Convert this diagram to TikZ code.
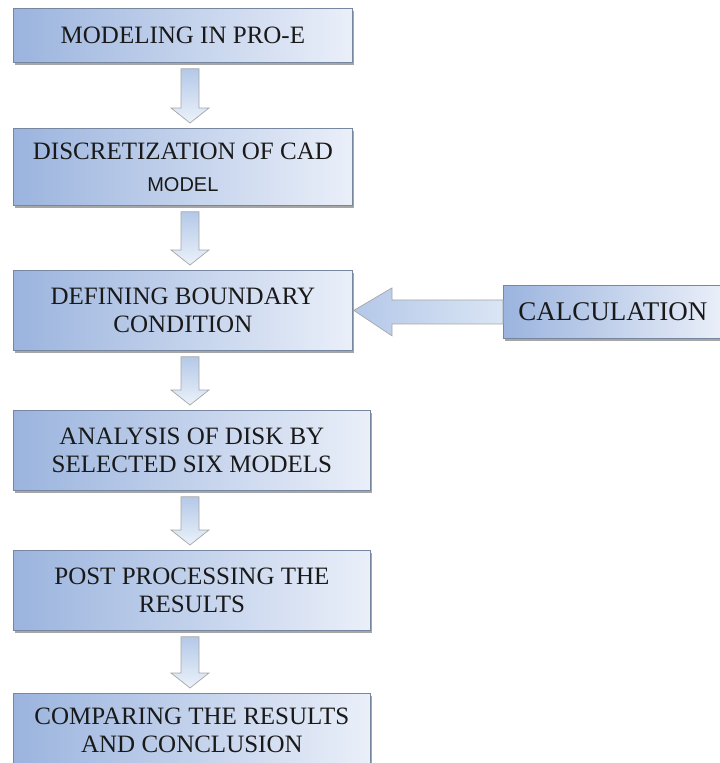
\documentclass[tikz,border=0pt]{standalone}
\usepackage{fontspec}
\setmainfont{Liberation Serif}
\newfontfamily\sansf{Liberation Sans}
\usetikzlibrary{calc,shadows}
\definecolor{boxL}{RGB}{155,180,222}
\definecolor{boxR}{RGB}{234,239,249}
\definecolor{edge}{RGB}{120,135,160}
\definecolor{arrL}{RGB}{180,200,232}
\definecolor{arrR}{RGB}{235,242,250}
\tikzset{
  flowbox/.style={draw=edge, line width=0.8pt, left color=boxL, right color=boxR,
    drop shadow={shadow xshift=2pt, shadow yshift=-3pt, fill=black!50, opacity=0.7},
    anchor=north west, inner sep=0pt, align=center, text=black!90,
    font=\fontsize{25}{28}\selectfont},
  blockarrow/.style={draw=black!35, line width=0.7pt, top color=arrL, bottom color=arrR,
    line join=miter},
  sidearrow/.style={draw=black!35, line width=0.7pt, left color=arrL, right color=arrR!70!arrL,
    line join=miter}
}
\newcommand\varrow[2]{%
  \path[blockarrow] ($(#1.south -| ax)+(-9,6)$) -- ($(#2.north -| ax)+(-9,-20)$)
    -- ++(-10,0) -- ($(#2.north -| ax)+(0,-5)$) -- ($(#2.north -| ax)+(19,-20)$)
    -- ++(-10,0) -- ($(#1.south -| ax)+(9,6)$) -- cycle;}
\begin{document}
\begin{tikzpicture}[x=1pt,y=-1pt]
\useasboundingbox (0,0) rectangle (720,763);
\coordinate (ax) at (190,0);
\node[flowbox, minimum width=339pt, minimum height=54pt] (b1) at (13,8) {MODELING IN PRO-E};
\node[flowbox, minimum width=339pt, minimum height=77pt] (b2) at (13,128)
  {DISCRETIZATION OF CAD\\[4pt]{\sansf\fontsize{20}{24}\selectfont MODEL}};
\node[flowbox, minimum width=339pt, minimum height=80pt] (b3) at (13,270)
  {DEFINING BOUNDARY\\CONDITION};
\node[flowbox, minimum width=357pt, minimum height=80pt] (b4) at (13,410)
  {ANALYSIS OF DISK BY\\SELECTED SIX MODELS};
\node[flowbox, minimum width=357pt, minimum height=80pt] (b5) at (13,550)
  {POST PROCESSING THE\\RESULTS};
\node[flowbox, minimum width=357pt, minimum height=74pt] (b6) at (13,693)
  {COMPARING THE RESULTS\\AND CONCLUSION};
\node[flowbox, minimum width=219pt, minimum height=53pt, font=\fontsize{27}{30}\selectfont] (calc) at (503,285)
  {CALCULATION};
\varrow{b1}{b2}
\varrow{b2}{b3}
\varrow{b3}{b4}
\varrow{b4}{b5}
\varrow{b5}{b6}
\path[sidearrow] ($(calc.west)+(0,-12)$) -- ($(calc.west)+(-111,-12)$) -- ++(0,-12)
  -- ($(b3.east)+(1,0)$) -- ($(calc.west)+(-111,24)$) -- ++(0,-12)
  -- ($(calc.west)+(0,12)$) -- cycle;
\end{tikzpicture}
\end{document}
